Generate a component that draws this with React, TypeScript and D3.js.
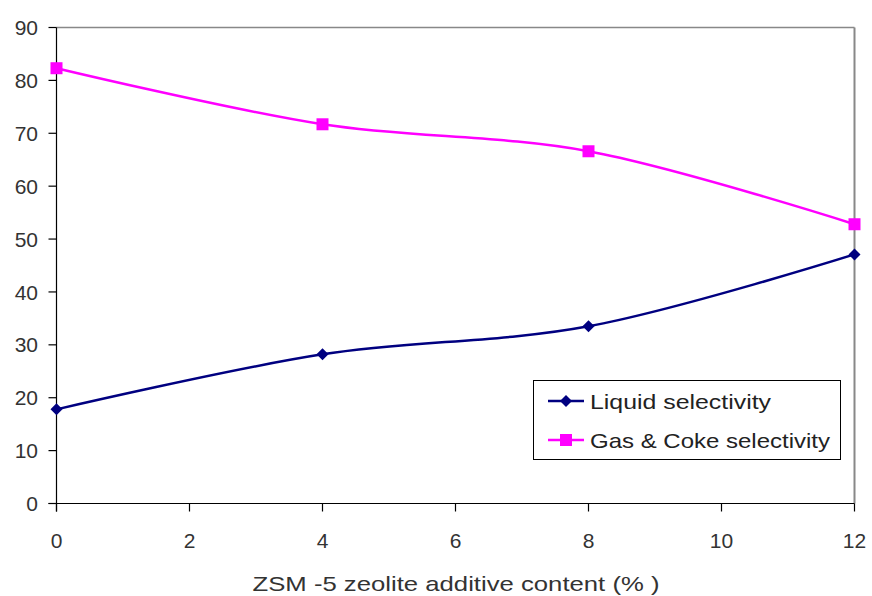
import React from "react";
import * as d3 from "d3";

const xValues = [0, 4, 8, 12];
const liquid = [17.8, 28.2, 33.5, 47.1];
const gasCoke = [82.3, 71.7, 66.6, 52.8];
const xTicks = [0, 2, 4, 6, 8, 10, 12];
const yTicks = [0, 10, 20, 30, 40, 50, 60, 70, 80, 90];
const seriesNames = ["Liquid selectivity", "Gas & Coke selectivity"];
const xTitle = "ZSM -5 zeolite additive content (% )";

export default function App() {
  const W = 872, H = 596;
  const L = 56.5, R = 854.5, T = 27.5, B = 503.5;
  const x = d3.scaleLinear().domain([0, 12]).range([L, R]);
  const y = d3.scaleLinear().domain([0, 90]).range([B, T]);
  const line = d3
    .line<number>()
    .x((_, i) => x(xValues[i]))
    .y((d) => y(d))
    .curve(d3.curveCatmullRom.alpha(0.5));
  const font = "'Liberation Sans', Arial, sans-serif";
  const navy = "#000080";
  const mag = "#FF00FF";
  const diamond = (cx: number, cy: number, key: any) => (
    <path key={key} d={`M${cx},${cy - 6}L${cx + 6},${cy}L${cx},${cy + 6}L${cx - 6},${cy}Z`} fill={navy} />
  );
  const square = (cx: number, cy: number, key: any) => (
    <rect key={key} x={cx - 6} y={cy - 6} width={12} height={12} fill={mag} />
  );
  return (
    <svg width={W} height={H} style={{ position: "absolute", left: 0, top: 0 }}>
      <rect width={W} height={H} fill="white" />
      <line x1={L} x2={R} y1={T} y2={T} stroke="#888" strokeWidth={1.5} />
      <line x1={R} x2={R} y1={T} y2={B} stroke="#888" strokeWidth={2} />
      <line x1={L} x2={L} y1={T} y2={B + 8} stroke="#000" strokeWidth={1.2} />
      <line x1={L - 8} x2={R} y1={B} y2={B} stroke="#000" strokeWidth={1.2} />
      {yTicks.map((t) => (
        <g key={"y" + t}>
          <line x1={L - 8} x2={L} y1={y(t)} y2={y(t)} stroke="#000" strokeWidth={1.2} />
          <text x={38} y={y(t)} dy="0.36em" textAnchor="end" fontFamily={font} fontSize={21} fill="#333">
            {t}
          </text>
        </g>
      ))}
      {xTicks.map((t) => (
        <g key={"x" + t}>
          <line x1={x(t)} x2={x(t)} y1={B} y2={B + 8} stroke="#000" strokeWidth={1.2} />
          <text x={x(t)} y={540} dy="0.36em" textAnchor="middle" fontFamily={font} fontSize={21} fill="#333">
            {t}
          </text>
        </g>
      ))}
      <path d={line(gasCoke) || ""} fill="none" stroke={mag} strokeWidth={2.5} />
      <path d={line(liquid) || ""} fill="none" stroke={navy} strokeWidth={2.5} />
      {gasCoke.map((v, i) => square(x(xValues[i]), y(v), "g" + i))}
      {liquid.map((v, i) => diamond(x(xValues[i]), y(v), "l" + i))}
      <text x={456} y={583} dy="0.36em" textAnchor="middle" fontFamily={font} fontSize={21} fill="#333" textLength={407} lengthAdjust="spacingAndGlyphs">
        {xTitle}
      </text>
      <rect x={533.5} y={380.5} width={307} height={79} fill="white" stroke="#000" strokeWidth={1} />
      <line x1={548} x2={584} y1={401} y2={401} stroke={navy} strokeWidth={2.5} />
      {diamond(566, 401, "ld")}
      <text x={590} y={401} dy="0.36em" fontFamily={font} fontSize={21} fill="#222" textLength={181} lengthAdjust="spacingAndGlyphs">
        {seriesNames[0]}
      </text>
      <line x1={548} x2={584} y1={440} y2={440} stroke={mag} strokeWidth={2.5} />
      {square(566, 440, "gs")}
      <text x={590} y={440} dy="0.36em" fontFamily={font} fontSize={21} fill="#222" textLength={240} lengthAdjust="spacingAndGlyphs">
        {seriesNames[1]}
      </text>
    </svg>
  );
}
